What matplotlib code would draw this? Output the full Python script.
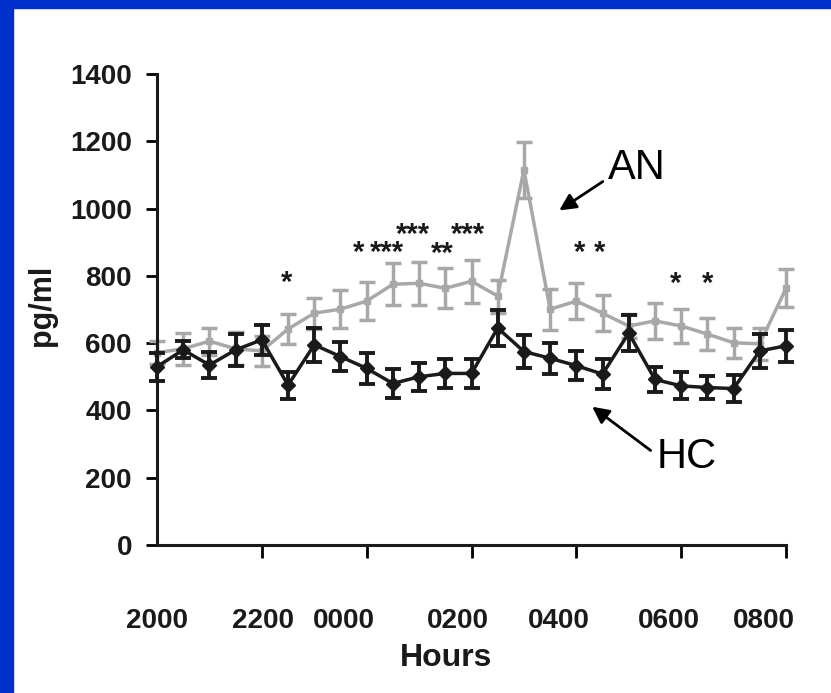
import numpy as np
import matplotlib.pyplot as plt
from matplotlib.patches import Rectangle
from matplotlib.ticker import FixedLocator

# --- veriler ---
hours = np.arange(0, 12.5, 0.5)  # 2000'den 0800'e, yarım saat arayla

hc_mean = [530, 580, 535, 580, 610, 475, 595, 560, 525, 480, 500, 510, 510,
           645, 575, 555, 533, 508, 630, 492, 473, 468, 465, 577, 592]
hc_err = [42, 25, 40, 47, 45, 40, 50, 42, 45, 42, 42, 42, 42,
          54, 49, 46, 44, 45, 54, 37, 40, 35, 40, 51, 47]

an_mean = [572, 583, 606, 583, 577, 642, 689, 701, 725, 775, 778, 763, 784,
           740, 1115, 701, 725, 689, 651, 666, 651, 627, 601, 598, 763]
an_err = [35, 47, 40, 49, 44, 46, 46, 57, 57, 62, 64, 59, 64,
          49, 84, 61, 54, 54, 37, 54, 51, 47, 44, 47, 57]

tick_hours = [0, 2, 4, 6, 8, 10, 12]
label_hours = [0, 2.02, 3.57, 5.74, 7.67, 9.77, 11.58]
hour_labels = ['2000', '2200', '0000', '0200', '0400', '0600', '0800']

# anlamlılık yıldızları: (saat, metin, y)
star_x = [2.48, 3.84, 4.39, 4.89, 5.44, 5.94, 8.07, 8.45, 9.89, 10.5]
star_txt = ['*', '*', '***', '***', '**', '***', '*', '*', '*', '*']
star_y = [778, 867, 867, 923, 864, 923, 867, 867, 775, 775]

FONT = ['Liberation Sans', 'DejaVu Sans']

fig = plt.figure(figsize=(8.31, 6.93), dpi=100)
fig.patch.set_facecolor('white')

# mavi çerçeve (sol ve üst)
fig.patches.append(Rectangle((0, 0), 13 / 831, 1, transform=fig.transFigure,
                             color='#0030cc', zorder=0))
fig.patches.append(Rectangle((0, 1 - 8 / 693), 1, 8 / 693, transform=fig.transFigure,
                             color='#0030cc', zorder=0))

ax = fig.add_axes([157 / 831, 1 - 545 / 693, 629 / 831, 471 / 693])

ax.errorbar(hours, an_mean, yerr=an_err, color='#a8a8a8', lw=2.5, marker='s',
            ms=5, elinewidth=2.5, capsize=6, capthick=2.5, clip_on=False, zorder=2)
ax.errorbar(hours, hc_mean, yerr=hc_err, color='#1a1a1a', lw=2.5, marker='D',
            ms=7, elinewidth=2.8, capsize=6, capthick=2.8, clip_on=False, zorder=3)

for x, t, y in zip(star_x, star_txt, star_y):
    ax.text(x, y, t, ha='center', va='center', fontsize=21, fontweight='bold',
            family=FONT, color='#1a1a1a')

ax.set_xlim(0, 12)
ax.set_ylim(0, 1400)
ax.set_yticks(np.arange(0, 1401, 200))

# tik işaretleri (minor) ve etiketler (major) ayrı konumlarda
ax.xaxis.set_minor_locator(FixedLocator(tick_hours))
ax.set_xticks(label_hours)
ax.set_xticklabels(hour_labels)
ax.tick_params(axis='x', which='major', length=0, pad=45)
ax.tick_params(axis='x', which='minor', length=9, width=2, direction='out')
ax.tick_params(axis='y', length=8, width=2, direction='out', pad=10)

for lab in ax.get_xticklabels() + ax.get_yticklabels():
    lab.set_family(FONT)
    lab.set_fontweight('bold')
    lab.set_fontsize(20)
    lab.set_color('#1a1a1a')

for s in ['top', 'right']:
    ax.spines[s].set_visible(False)
for s in ['left', 'bottom']:
    ax.spines[s].set_linewidth(2.2)
    ax.spines[s].set_color('#1a1a1a')

fig.text(42 / 831, 1 - 305 / 693, 'pg/ml', rotation=90, ha='center', va='center',
         fontsize=22, fontweight='bold', family=FONT, color='#1a1a1a')
fig.text(446 / 831, 1 - 658 / 693, 'Hours', ha='center', va='center',
         fontsize=23, fontweight='bold', family=FONT, color='#1a1a1a')

ax.annotate('', xy=(7.63, 990), xytext=(8.55, 1085),
            arrowprops=dict(arrowstyle='-|>', mutation_scale=25, lw=2, color='black'))
ax.text(9.16, 1121, 'AN', ha='center', va='center', fontsize=30, family=FONT)
ax.annotate('', xy=(8.26, 416), xytext=(9.46, 276),
            arrowprops=dict(arrowstyle='-|>', mutation_scale=25, lw=2, color='black'))
ax.text(10.11, 262, 'HC', ha='center', va='center', fontsize=30, family=FONT)

fig.savefig('out.png', dpi=100)
